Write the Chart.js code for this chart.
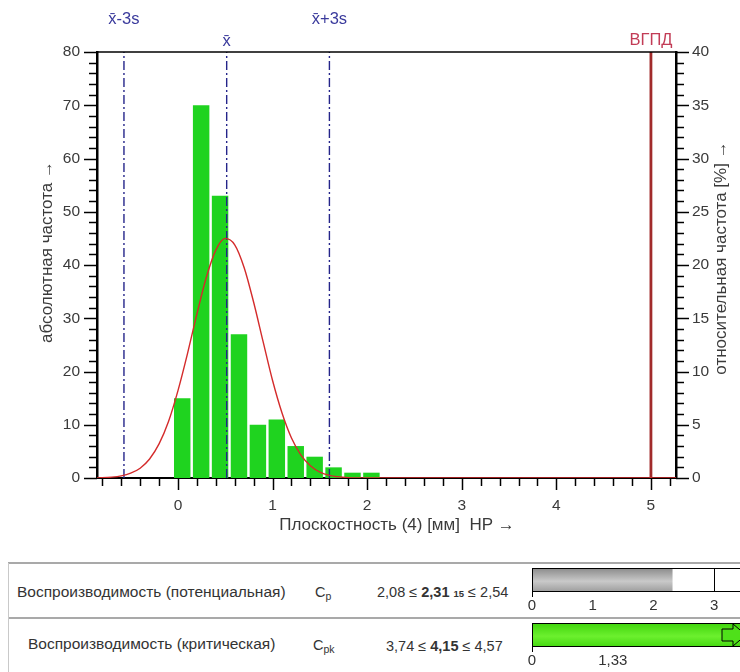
<!DOCTYPE html>
<html>
<head>
<meta charset="utf-8">
<script src="https://cdn.jsdelivr.net/npm/chart.js@4.4.1/dist/chart.umd.min.js"></script>
<style>
  html, body { margin:0; padding:0; background:#fff; }
  body { width:740px; height:672px; overflow:hidden; position:relative;
         font-family:"Liberation Sans", Arial, sans-serif; color:#333; }
  canvas { position:absolute; display:block; }
  #main { left:0; top:0; }
  #gCp  { left:520px; top:560px; }
  #gCpk { left:520px; top:615px; }
  .hline { position:absolute; left:8px; width:732px; height:0; border-top:2px solid #a9a9a9; }
  .vline { position:absolute; left:8px; top:563px; width:0; height:109px; border-left:1px solid #c9c9c9; }
  .cell { position:absolute; white-space:nowrap; font-size:15.5px; line-height:18px; color:#333; }
  .val { font-size:14.5px; }
  .cell b { font-weight:bold; }
  .cell sub { font-size:10.5px; vertical-align:-3px; }
  .tiny { font-size:9.5px; font-weight:bold; }
</style>
</head>
<body>
<canvas id="main" width="740" height="545"></canvas>

<div class="hline" style="top:562px"></div>
<div class="hline" style="top:617px"></div>
<div class="vline"></div>

<div class="cell" style="left:17px; top:583px; width:269px; overflow:hidden;">Воспроизводимость (потенциальная)</div>
<div class="cell val" style="left:315px; top:583px;">C<sub>p</sub></div>
<div class="cell val" style="left:377px; top:583px;">2,08 ≤ <b>2,31</b> <span class="tiny">15</span> ≤ 2,54</div>

<div class="cell" style="left:28px; top:635px;">Воспроизводимость (критическая)</div>
<div class="cell val" style="left:313px; top:636px;">C<sub>pk</sub></div>
<div class="cell val" style="left:386px; top:637px;">3,74 ≤ <b>4,15</b> ≤ 4,57</div>

<canvas id="gCp" width="222" height="56"></canvas>
<canvas id="gCpk" width="222" height="56"></canvas>

<script>
// ---- histogram of flatness values (class centres, absolute counts) ----
const binCenters = [0.045, 0.245, 0.445, 0.645, 0.845, 1.045, 1.245, 1.445, 1.645, 1.845, 2.045];
const counts     = [15, 70, 53, 27, 10, 11, 6, 4, 2, 1, 1];

// ---- fitted normal curve, sampled points ----
const curveX = [-0.856, -0.7, -0.6, -0.5, -0.4, -0.3, -0.2, -0.1, 0.0, 0.1, 0.2, 0.3, 0.4, 0.5,
                0.6, 0.7, 0.8, 0.9, 1.0, 1.1, 1.2, 1.3, 1.4, 1.5, 1.6, 1.8, 2.0, 2.5, 5.265];
const curveY = [0.03, 0.16, 0.39, 0.9, 1.84, 3.57, 6.4, 10.6, 16.4, 23.3, 30.8, 37.7, 42.8, 45.0,
                43.8, 39.5, 33.0, 25.6, 18.3, 12.2, 7.5, 4.3, 2.3, 1.1, 0.5, 0.08, 0.01, 0, 0];

// ---- statistic markers ----
const markerNames  = ['x̄-3s', 'x̄', 'x̄+3s'];
const markerValues = [-0.571, 0.515, 1.601];
const uslName  = 'ВГПД';
const uslValue = 5.0;

// ---- axis ticks and titles ----
const xTicks  = [0, 1, 2, 3, 4, 5];
const yTicks  = [0, 10, 20, 30, 40, 50, 60, 70, 80];
const y2Ticks = [0, 5, 10, 15, 20, 25, 30, 35, 40];
const xTitle  = 'Плоскостность (4) [мм]  HP →';
const yTitle  = 'абсолютная частота →';
const y2Title = 'относительная частота [%] →';

// ---- capability indices ----
const cpValue   = 2.31;
const cpkValue  = 4.15;
const cpkTarget = 1.33;
const cpTicks   = [0, 1, 2, 3];
const cpkTicks  = [0, cpkTarget];

const FONT = '"Liberation Sans", Arial, sans-serif';
Chart.defaults.font.family = FONT;
Chart.defaults.color = '#3a3a3a';

const NAVY = '#25258a';
const vLine = v => [{ x: v, y: 0 }, { x: v, y: 80 }];

// tick marks, plot frame, marker captions and axis titles
const histDecor = {
  id: 'histDecor',
  afterDraw(chart) {
    const { ctx, chartArea: a, scales: { x, y, y2 } } = chart;
    ctx.save();
    ctx.strokeStyle = '#000';
    ctx.lineWidth = 1.5;
    const seg = (x1, y1, x2, y2p) => { ctx.beginPath(); ctx.moveTo(x1, y1); ctx.lineTo(x2, y2p); ctx.stroke(); };

    // frame top
    seg(a.left, a.top, a.right, a.top);

    // left axis: major every 10, minor every 2
    for (let v = 0; v <= 80; v += 2) {
      const p = Math.round(y.getPixelForValue(v)) + 0.5;
      seg(a.left - (v % 10 === 0 ? 13 : 8), p, a.left, p);
    }
    // right axis: major every 5, minor every 1
    for (let v = 0; v <= 40; v += 1) {
      const p = Math.round(y2.getPixelForValue(v)) + 0.5;
      seg(a.right, p, a.right + (v % 5 === 0 ? 13 : 8), p);
    }
    // bottom axis: major every 1, minor every 0.2
    for (let k = -4; k <= 26; k++) {
      const v = k / 5;
      const p = Math.round(x.getPixelForValue(v)) + 0.5;
      seg(p, a.bottom, p, a.bottom + (k % 5 === 0 ? 12 : 8));
    }

    // marker captions
    ctx.textAlign = 'center';
    ctx.textBaseline = 'middle';
    ctx.font = '16.5px ' + FONT;
    ctx.fillStyle = '#3a3a9c';
    markerNames.forEach((n, i) => {
      const px = x.getPixelForValue(markerValues[i]);
      ctx.fillText(n, px, i === 1 ? 41 : 19);
    });
    ctx.fillStyle = '#c23c56';
    ctx.fillText(uslName, x.getPixelForValue(uslValue), 40);

    // axis titles
    ctx.fillStyle = '#3a3a3a';
    ctx.font = '17px ' + FONT;
    ctx.fillText(xTitle, 397, 525);
    ctx.save();
    ctx.translate(47, 252);
    ctx.rotate(-Math.PI / 2);
    ctx.fillText(yTitle, 0, 0);
    ctx.restore();
    ctx.translate(721, 258);
    ctx.rotate(-Math.PI / 2);
    ctx.fillText(y2Title, 0, 0);
    ctx.restore();
  }
};

new Chart(document.getElementById('main'), {
  type: 'bar',
  data: {
    datasets: [
      { type: 'bar', data: binCenters.map((c, i) => ({ x: c, y: counts[i] })),
        backgroundColor: '#1fd31f', borderWidth: 0,
        categoryPercentage: 1, barPercentage: 0.87, order: 5, xAxisID: 'x', yAxisID: 'y' },
      { type: 'line', data: curveX.map((c, i) => ({ x: c, y: curveY[i] })),
        borderColor: '#d42b2b', borderWidth: 1.4, pointRadius: 0,
        cubicInterpolationMode: 'monotone', order: 1, xAxisID: 'x', yAxisID: 'y' },
      ...markerValues.map(v => ({
        type: 'line', data: vLine(v), borderColor: NAVY, borderWidth: 1.4,
        borderDash: [9, 3, 2, 3], pointRadius: 0, order: 2, xAxisID: 'x', yAxisID: 'y'
      })),
      { type: 'line', data: vLine(uslValue), borderColor: '#a12b2b', borderWidth: 2.8,
        pointRadius: 0, order: 2, xAxisID: 'x', yAxisID: 'y' }
    ]
  },
  options: {
    responsive: false,
    animation: false,
    events: [],
    layout: { padding: { top: 52, left: 0, right: 0, bottom: 0 } },
    plugins: { legend: { display: false }, tooltip: { enabled: false } },
    scales: {
      x: {
        type: 'linear', position: 'bottom', min: -0.856, max: 5.265, offset: false,
        afterBuildTicks: s => { s.ticks = xTicks.map(v => ({ value: v })); },
        afterFit: s => { s.height = 67; },
        grid: { display: false, drawTicks: false },
        border: { display: true, color: '#000', width: 2 },
        ticks: { padding: 18, font: { size: 15.5 }, color: '#3a3a3a', maxRotation: 0 }
      },
      y: {
        type: 'linear', position: 'left', min: 0, max: 80,
        afterBuildTicks: s => { s.ticks = yTicks.map(v => ({ value: v })); },
        afterFit: s => { s.width = 97; },
        grid: { display: false, drawTicks: false },
        border: { display: true, color: '#000', width: 2.5 },
        ticks: { padding: 17, font: { size: 15.5 }, color: '#3a3a3a' }
      },
      y2: {
        type: 'linear', position: 'right', min: 0, max: 40,
        afterBuildTicks: s => { s.ticks = y2Ticks.map(v => ({ value: v })); },
        afterFit: s => { s.width = 64; },
        grid: { display: false, drawTicks: false },
        border: { display: true, color: '#000', width: 2.5 },
        ticks: { padding: 16, font: { size: 15.5 }, color: '#3a3a3a' }
      }
    }
  },
  plugins: [histDecor]
});

// ---- capability gauges ----
function gaugeFill(stops) {
  return ctx => {
    const a = ctx.chart.chartArea;
    if (!a) return stops[1];
    const g = ctx.chart.ctx.createLinearGradient(0, a.top, 0, a.bottom);
    g.addColorStop(0, stops[0]);
    g.addColorStop(0.55, stops[1]);
    g.addColorStop(1, stops[2]);
    return g;
  };
}

const gaugeFrame = {
  id: 'gaugeFrame',
  afterDraw(chart, args, opts) {
    const { ctx, chartArea: a } = chart;
    ctx.save();
    ctx.strokeStyle = '#000';
    ctx.lineWidth = 1;
    ctx.strokeRect(a.left + 0.5, a.top + 0.5, a.right - a.left, a.bottom - a.top - 1);
    ctx.beginPath();
    ctx.moveTo(a.left + 0.5, a.bottom);
    ctx.lineTo(a.left + 0.5, a.bottom + 5);
    ctx.stroke();
    if (opts.arrow) {
      // overflow arrow: value beyond the displayed range
      const x0 = a.right - 20, xh = a.right - 9, cy = (a.top + a.bottom) / 2;
      ctx.fillStyle = '#4fe01a';
      ctx.beginPath();
      ctx.moveTo(x0, cy - 6); ctx.lineTo(xh, cy - 6); ctx.lineTo(xh, a.top + 1);
      ctx.lineTo(a.right + 4, cy); ctx.lineTo(xh, a.bottom - 1); ctx.lineTo(xh, cy + 6);
      ctx.lineTo(x0, cy + 6); ctx.closePath();
      ctx.fill(); ctx.stroke();
    }
    ctx.restore();
  }
};

function gauge(id, value, ticks, fill, gridColor, arrow, fmt) {
  return new Chart(document.getElementById(id), {
    type: 'bar',
    data: { labels: [''], datasets: [{ data: [value], backgroundColor: gaugeFill(fill),
            borderWidth: 0, categoryPercentage: 1, barPercentage: 1 }] },
    options: {
      indexAxis: 'y', responsive: false, animation: false, events: [],
      layout: { padding: { top: 8, left: 12, right: 0, bottom: 0 } },
      plugins: { legend: { display: false }, tooltip: { enabled: false }, gaugeFrame: { arrow } },
      scales: {
        x: {
          type: 'linear', min: 0, max: 3.46, position: 'bottom',
          afterBuildTicks: s => { s.ticks = ticks.map(v => ({ value: v })); },
          afterFit: s => { s.height = 24; },
          grid: { display: true, drawTicks: false, drawOnChartArea: true, lineWidth: 1,
                  color: c => (c.tick && c.tick.value === 0) ? 'rgba(0,0,0,0)' : gridColor },
          border: { display: false },
          ticks: { padding: 5, font: { size: 15 }, color: '#333', callback: fmt }
        },
        y: { display: false }
      }
    },
    plugins: [gaugeFrame]
  });
}

gauge('gCp', cpValue, cpTicks, ['#8a8a8a', '#c9c9c9', '#9c9c9c'], '#000', false,
      v => String(v));
gauge('gCpk', cpkValue, cpkTicks, ['#3fd40c', '#6cf02e', '#44d810'], '#b3301e', true,
      v => v.toFixed(v % 1 ? 2 : 0).replace('.', ','));
</script>
</body>
</html>
